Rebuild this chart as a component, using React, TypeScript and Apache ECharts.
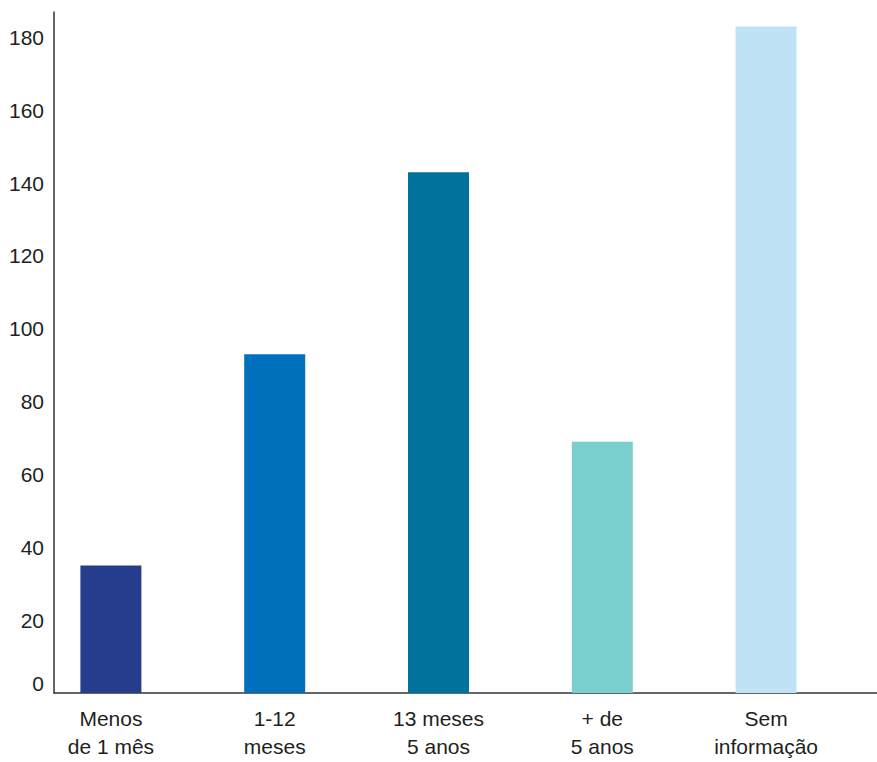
import React, { useEffect, useRef } from "react";
import * as echarts from "echarts";

const categories = ["Menos\nde 1 mês", "1-12\nmeses", "13 meses\n5 anos", "+ de\n5 anos", "Sem\ninformação"];
const values = [35, 93, 143, 69, 183];
const colors = ["#253d8c", "#0070bc", "#00729c", "#7acfce", "#bfe2f4"];
const yMax = 187;
const yInterval = 20;

export default function App() {
  const ref = useRef<HTMLDivElement>(null);
  useEffect(() => {
    if (!ref.current) return;
    const chart = echarts.init(ref.current, undefined, { renderer: "svg" });
    const font = "'Liberation Sans', Arial, sans-serif";
    chart.setOption({
      animation: false,
      backgroundColor: "#ffffff",
      grid: [
        { left: 54, right: 0, top: 12, bottom: 69, containLabel: false, outerBoundsMode: "none" },
        { left: 29, right: 29, top: 12, bottom: 69, containLabel: false, outerBoundsMode: "none" },
      ],
      xAxis: [
        {
          gridIndex: 0,
          type: "value",
          min: 0,
          max: 1,
          axisLine: { show: true, onZero: false, lineStyle: { color: "#333", width: 1.5 } },
          axisTick: { show: false },
          axisLabel: { show: false },
          splitLine: { show: false },
        },
        {
          gridIndex: 1,
          type: "category",
          data: categories,
          axisLine: { show: false },
          axisTick: { show: false },
          axisLabel: {
            color: "#231f20",
            fontFamily: font,
            fontSize: 21,
            lineHeight: 28,
            margin: 11,
            interval: 0,
          },
        },
      ],
      yAxis: [
        {
          gridIndex: 0,
          type: "value",
          min: 0,
          max: yMax,
          interval: yInterval,
          axisLine: { show: true, lineStyle: { color: "#333", width: 1.5 } },
          axisTick: { show: false },
          splitLine: { show: false },
          axisLabel: {
            color: "#231f20",
            fontFamily: font,
            fontSize: 21,
            margin: 10,
            formatter: (v: number) => (v % yInterval !== 0 ? "" : v === 0 ? "{z|0}" : String(v)),
            rich: { z: { fontFamily: font, fontSize: 21, color: "#231f20", padding: [0, 0, 20, 0] } },
          },
        },
        {
          gridIndex: 1,
          type: "value",
          min: 0,
          max: yMax,
          show: false,
        },
      ],
      series: [
        {
          type: "bar",
          xAxisIndex: 1,
          yAxisIndex: 1,
          barWidth: 61,
          data: values.map((v, i) => ({ value: v, itemStyle: { color: colors[i] } })),
        },
      ],
    });
    return () => chart.dispose();
  }, []);
  return (
    <div
      ref={ref}
      style={{ position: "fixed", left: 0, top: 0, width: 877, height: 762, background: "#fff" }}
    />
  );
}
